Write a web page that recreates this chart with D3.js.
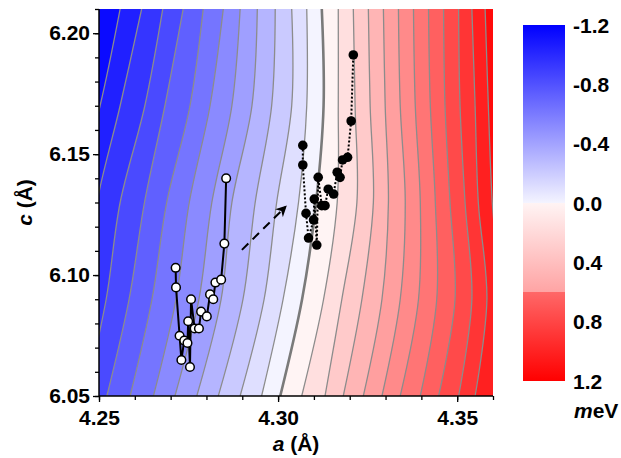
<!DOCTYPE html>
<html>
<head>
<meta charset="utf-8">
<script src="https://cdn.jsdelivr.net/npm/d3@7"></script>
<style>
  body { margin: 0; background: #fff; }
  svg text { font-family: "Liberation Sans", Arial, sans-serif; font-weight: bold; }
</style>
</head>
<body>
<div id="chart"></div>
<script>
// contour levels (meV) and the c rows at which each level's a-position was read
var levels = [-1.1, -1.0, -0.9, -0.8, -0.7, -0.6, -0.5, -0.4, -0.3, -0.2, -0.1, 0.0,
              0.1, 0.2, 0.3, 0.4, 0.5, 0.6, 0.7, 0.8, 0.9, 1.0, 1.1];
var cRows = [6.05, 6.09, 6.13, 6.17, 6.21];
// a-position of each contour level at each of the c rows
var levelA = [
    [4.2338, 4.2391, 4.2430, 4.2503, 4.2559],
    [4.2399, 4.2455, 4.2494, 4.2559, 4.2619],
    [4.2461, 4.2520, 4.2559, 4.2628, 4.2678],
    [4.2522, 4.2584, 4.2627, 4.2684, 4.2735],
    [4.2587, 4.2648, 4.2689, 4.2754, 4.2791],
    [4.2652, 4.2715, 4.2752, 4.2810, 4.2847],
    [4.2712, 4.2779, 4.2815, 4.2871, 4.2894],
    [4.2773, 4.2841, 4.2871, 4.2927, 4.2942],
    [4.2833, 4.2902, 4.2936, 4.2982, 4.2992],
    [4.2894, 4.2961, 4.2996, 4.3038, 4.3038],
    [4.2954, 4.3014, 4.3057, 4.3080, 4.3080],
    [4.3006, 4.3067, 4.3106, 4.3127, 4.3122],
    [4.3066, 4.3127, 4.3165, 4.3168, 4.3168],
    [4.3131, 4.3178, 4.3220, 4.3215, 4.3210],
    [4.3182, 4.3234, 4.3266, 4.3257, 4.3252],
    [4.3238, 4.3290, 4.3308, 4.3299, 4.3294],
    [4.3290, 4.3341, 4.3355, 4.3341, 4.3336],
    [4.3341, 4.3392, 4.3397, 4.3383, 4.3378],
    [4.3397, 4.3443, 4.3439, 4.3425, 4.3420],
    [4.3448, 4.3494, 4.3480, 4.3466, 4.3462],
    [4.3504, 4.3541, 4.3522, 4.3508, 4.3504],
    [4.3550, 4.3583, 4.3559, 4.3550, 4.3541],
    [4.3603, 4.3620, 4.3598, 4.3587, 4.3578]
];

// first run (open circles, solid line)
var runA_a = [4.2714, 4.2715, 4.2725, 4.2730, 4.2738, 4.2747, 4.2749, 4.2754, 4.2757, 4.2767,
              4.2779, 4.2785, 4.2801, 4.2810, 4.2819, 4.2825, 4.2841, 4.2850, 4.2855];
var runA_c = [6.1030, 6.0949, 6.0749, 6.0649, 6.0729, 6.0719, 6.0809, 6.0620, 6.0900, 6.0779,
              6.0779, 6.0849, 6.0829, 6.0920, 6.0900, 6.0969, 6.0981, 6.1130, 6.1400];
// second run (filled circles, dotted line)
var runB_a = [4.3069, 4.3069, 4.3078, 4.3085, 4.3099, 4.3101, 4.3108, 4.3112, 4.3122,
              4.3131, 4.3140, 4.3155, 4.3165, 4.3173, 4.3180, 4.3194, 4.3204, 4.3210];
var runB_c = [6.1536, 6.1455, 6.1255, 6.1153, 6.1228, 6.1314, 6.1124, 6.1404, 6.1287,
              6.1287, 6.1355, 6.1335, 6.1425, 6.1404, 6.1476, 6.1487, 6.1637, 6.1910];
// arrow from first run to second run
var arrowA = [4.2899, 4.3020];
var arrowC = [6.1104, 6.1281];

var xTicks = [4.25, 4.30, 4.35];
var xMinor = [4.25, 4.26, 4.27, 4.28, 4.29, 4.30, 4.31, 4.32, 4.33, 4.34, 4.35, 4.36];
var yTicks = [6.05, 6.10, 6.15, 6.20];
var yMinor = [6.05, 6.06, 6.07, 6.08, 6.09, 6.10, 6.11, 6.12, 6.13, 6.14, 6.15, 6.16, 6.17, 6.18, 6.19, 6.20, 6.21];
var cbTicks = [-1.2, -0.8, -0.4, 0.0, 0.4, 0.8, 1.2];

var W = 621, H = 458;
var pLeft = 99, pRight = 493, pTop = 9, pBottom = 396;

var svg = d3.select('#chart').append('svg')
    .attr('width', W).attr('height', H);
var defs = svg.append('defs');

var x = d3.scaleLinear().domain([4.25, 4.36]).range([pLeft, pRight]);
var y = d3.scaleLinear().domain([6.05, 6.21]).range([pBottom, pTop]);

// band colour: blue below zero, red above, taken at the band middle
function bandColor(lo) {
    var mid = lo + 0.05;
    if (mid < 0) return d3.interpolateRgb('#ffffff', '#0000ff')(-mid / 1.2);
    return d3.interpolateRgb('#ffffff', '#ff0000')(mid / 1.2);
}

defs.append('clipPath').attr('id', 'plotclip')
  .append('rect')
    .attr('x', pLeft).attr('y', pTop)
    .attr('width', pRight - pLeft).attr('height', pBottom - pTop);

var plot = svg.append('g').attr('clip-path', 'url(#plotclip)');

plot.append('rect')
    .attr('x', pLeft).attr('y', pTop)
    .attr('width', pRight - pLeft).attr('height', pBottom - pTop)
    .attr('fill', bandColor(-1.2));

var line = d3.line()
    .x(function(d) { return x(d[0]); })
    .y(function(d) { return y(d[1]); })
    .curve(d3.curveCatmullRom);

function levelPts(i) {
    return cRows.map(function(c, j) { return [levelA[i][j], c]; });
}

// paint each band from its lower contour to the right edge, left to right
levels.forEach(function(lv, i) {
    var d = line(levelPts(i)) +
        'L' + (pRight + 20) + ',' + (pTop - 5) +
        'L' + (pRight + 20) + ',' + (pBottom + 5) + 'Z';
    plot.append('path')
        .attr('d', d)
        .attr('fill', bandColor(lv))
        .attr('stroke', 'none');
});

levels.forEach(function(lv, i) {
    plot.append('path')
        .attr('d', line(levelPts(i)))
        .attr('fill', 'none')
        .attr('stroke', lv === 0 ? '#7a7a7a' : '#8c8c8c')
        .attr('stroke-width', lv === 0 ? 2.6 : 1.3);
});

// arrow
defs.append('marker')
    .attr('id', 'head')
    .attr('viewBox', '0 0 10 10')
    .attr('refX', 8).attr('refY', 5)
    .attr('markerWidth', 5.5).attr('markerHeight', 5.5)
    .attr('markerUnits', 'strokeWidth')
    .attr('orient', 'auto')
  .append('path')
    .attr('d', 'M0,0 L10,5 L0,10 L3,5 Z')
    .attr('fill', '#000');

plot.append('line')
    .attr('x1', x(arrowA[0])).attr('y1', y(arrowC[0]))
    .attr('x2', x(arrowA[1])).attr('y2', y(arrowC[1]))
    .attr('stroke', '#000').attr('stroke-width', 2)
    .attr('stroke-dasharray', '9,6')
    .attr('marker-end', 'url(#head)');

var runA = runA_a.map(function(a, i) { return [a, runA_c[i]]; });
var runB = runB_a.map(function(a, i) { return [a, runB_c[i]]; });
var straight = d3.line()
    .x(function(d) { return x(d[0]); })
    .y(function(d) { return y(d[1]); });

plot.append('path')
    .attr('d', straight(runA))
    .attr('fill', 'none').attr('stroke', '#000').attr('stroke-width', 2);
plot.selectAll('circle.ra').data(runA).enter().append('circle')
    .attr('class', 'ra')
    .attr('cx', function(d) { return x(d[0]); })
    .attr('cy', function(d) { return y(d[1]); })
    .attr('r', 4.3)
    .attr('fill', '#fff').attr('stroke', '#000').attr('stroke-width', 1.5);

plot.append('path')
    .attr('d', straight(runB))
    .attr('fill', 'none').attr('stroke', '#000').attr('stroke-width', 2)
    .attr('stroke-dasharray', '2,2');
plot.selectAll('circle.rb').data(runB).enter().append('circle')
    .attr('class', 'rb')
    .attr('cx', function(d) { return x(d[0]); })
    .attr('cy', function(d) { return y(d[1]); })
    .attr('r', 4.8)
    .attr('fill', '#000');

// axes
var fmt = d3.format('.2f');
var xAxis = svg.append('g')
    .attr('transform', 'translate(0,' + pBottom + ')')
    .call(d3.axisBottom(x).tickValues(xTicks).tickFormat(fmt).tickSize(6).tickPadding(8));
svg.append('g')
    .attr('transform', 'translate(0,' + pBottom + ')')
    .call(d3.axisBottom(x).tickValues(xMinor).tickFormat('').tickSize(4))
    .select('.domain').remove();
var yAxis = svg.append('g')
    .attr('transform', 'translate(' + pLeft + ',0)')
    .call(d3.axisLeft(y).tickValues(yTicks).tickFormat(fmt).tickSize(6).tickPadding(3));
svg.append('g')
    .attr('transform', 'translate(' + pLeft + ',0)')
    .call(d3.axisLeft(y).tickValues(yMinor).tickFormat('').tickSize(4))
    .select('.domain').remove();

xAxis.select('.domain').attr('d', 'M' + pLeft + ',0H' + pRight).attr('stroke-width', 1.5);
yAxis.select('.domain').attr('d', 'M0,' + pTop + 'V' + pBottom).attr('stroke-width', 1.5);
svg.selectAll('.tick line').attr('stroke-width', 1.3);
svg.selectAll('.tick text')
    .style('font-size', '21px').style('font-weight', 'bold')
    .style('font-family', '"Liberation Sans", Arial, sans-serif')
    .attr('fill', '#000');

var xt = svg.append('text')
    .attr('x', (pLeft + pRight) / 2).attr('y', 451)
    .attr('text-anchor', 'middle').style('font-size', '21px');
xt.append('tspan').style('font-style', 'italic').text('a');
xt.append('tspan').text(' (Å)');

var yt = svg.append('text')
    .attr('transform', 'translate(32,' + ((pTop + pBottom) / 2) + ') rotate(-90)')
    .attr('text-anchor', 'middle').style('font-size', '21px');
yt.append('tspan').style('font-style', 'italic').text('c');
yt.append('tspan').text(' (Å)');

// colour bar
var cbX = 523, cbW = 42, cbTop = 25, cbBottom = 381;
var cb = d3.scaleLinear().domain([-1.2, 1.2]).range([cbTop, cbBottom]);
var grad = defs.append('linearGradient')
    .attr('id', 'cbgrad').attr('x1', 0).attr('y1', 0).attr('x2', 0).attr('y2', 1);
var stops = [[0, '#0000ff'], [0.5, '#f4f4ff'], [0.5, '#fff4f4'], [0.75, '#ffa4a4'],
             [0.75, '#ff6868'], [1, '#ff0000']];
stops.forEach(function(s) {
    grad.append('stop').attr('offset', s[0]).attr('stop-color', s[1]);
});
svg.append('rect')
    .attr('x', cbX).attr('y', cbTop).attr('width', cbW).attr('height', cbBottom - cbTop)
    .attr('fill', 'url(#cbgrad)');

svg.selectAll('text.cb').data(cbTicks).enter().append('text')
    .attr('class', 'cb')
    .attr('x', 573)
    .attr('y', function(d) { return cb(d); })
    .attr('dy', '0.36em')
    .style('font-size', '21px')
    .text(function(d) { return d3.format('.1f')(d).replace('−', '-'); });

var mev = svg.append('text')
    .attr('x', 574).attr('y', 418).style('font-size', '21px');
mev.append('tspan').style('font-style', 'italic').text('m');
mev.append('tspan').text('eV');
</script>
</body>
</html>
